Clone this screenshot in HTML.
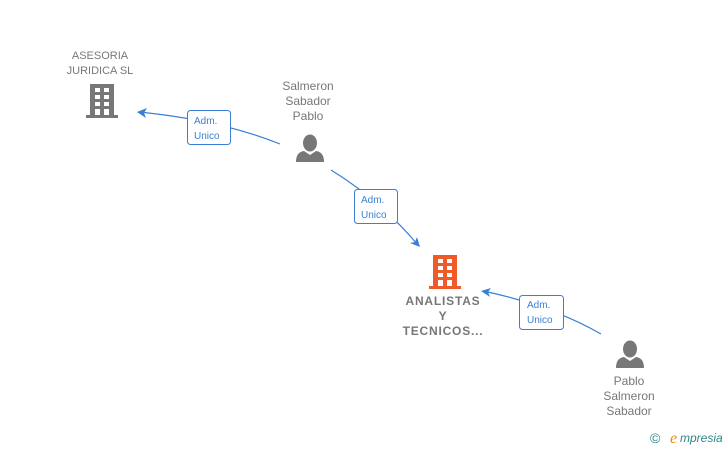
<!DOCTYPE html>
<html><head><style>body{margin:0;background:#fff}</style></head><body>
<svg width="728" height="450" xmlns="http://www.w3.org/2000/svg" font-family="Liberation Sans, sans-serif">
<defs>
<g id="bld"><rect x="4" y="0" width="24" height="32"/><rect x="0" y="31" width="32" height="3"/></g>
<g id="win" fill="#fff"><rect x="9" y="4" width="5" height="4"/><rect x="18" y="4" width="5" height="4"/><rect x="9" y="11" width="5" height="4"/><rect x="18" y="11" width="5" height="4"/><rect x="9" y="18" width="5" height="4"/><rect x="18" y="18" width="5" height="4"/><rect x="9" y="25" width="5" height="6"/><rect x="18" y="25" width="5" height="6"/></g>
<g id="per"><ellipse cx="14" cy="9" rx="7" ry="8.5"/><path d="M0 28 Q0 18 8 17 L14 21 L20 17 Q28 18 28 28 Z"/></g>
</defs>
<g stroke="#3a7fd5" stroke-width="1.2" fill="none">
<path d="M280 144 Q220 120 139 112"/>
<path d="M331 170 Q380 200 418 245"/>
<path d="M601 334 Q550 305 483 291"/>
</g>
<g fill="#3a7fd5">
<path d="M137 112 l10 -4 l-3 5 l2 5 z"/>
<path d="M420 247 l-10 -4 l5 -1 l2 -5 z"/>
<path d="M481 291 l10 -3 l-3 4 l2 5 z"/>
</g>
<g fill="#fff" stroke="#3a7fd5" stroke-width="1">
<rect x="187.5" y="110.5" width="43" height="34" rx="3"/>
<rect x="354.5" y="189.5" width="43" height="34" rx="3"/>
<rect x="519.5" y="295.5" width="44" height="34" rx="3"/>
</g>
<g fill="#3a7fd5" font-size="10">
<text x="194" y="124">Adm.</text><text x="194" y="139">Unico</text>
<text x="361" y="203">Adm.</text><text x="361" y="218">Unico</text>
<text x="527" y="308">Adm.</text><text x="527" y="323">Unico</text>
</g>
<g transform="translate(86,84)" fill="#777"><use href="#bld"/><use href="#win"/></g>
<g transform="translate(429,255)" fill="#f05a28"><use href="#bld"/><use href="#win"/></g>
<g transform="translate(296,134)" fill="#777"><use href="#per"/></g>
<g transform="translate(616,340)" fill="#777"><use href="#per"/></g>
<g fill="#777" font-size="12" text-anchor="middle">
<text x="100" y="59" font-size="11">ASESORIA</text><text x="100" y="74" font-size="11">JURIDICA  SL</text>
<text x="308" y="90">Salmeron</text><text x="308" y="105">Sabador</text><text x="308" y="120">Pablo</text>
<text x="629" y="385">Pablo</text><text x="629" y="400">Salmeron</text><text x="629" y="415">Sabador</text>
<g font-weight="bold" letter-spacing="0.8"><text x="443" y="305">ANALISTAS</text><text x="443" y="320">Y</text><text x="443" y="335">TECNICOS...</text></g>
</g>
<text x="650" y="443" fill="#2a8a8a" font-size="14">©</text>
<text x="670" y="443" fill="#f08a00" font-size="16" font-style="italic" font-family="Liberation Serif, serif">e</text>
<text x="680" y="442" fill="#2a8a8a" font-size="12" font-style="italic">mpresia</text>
</svg>
</body></html>
